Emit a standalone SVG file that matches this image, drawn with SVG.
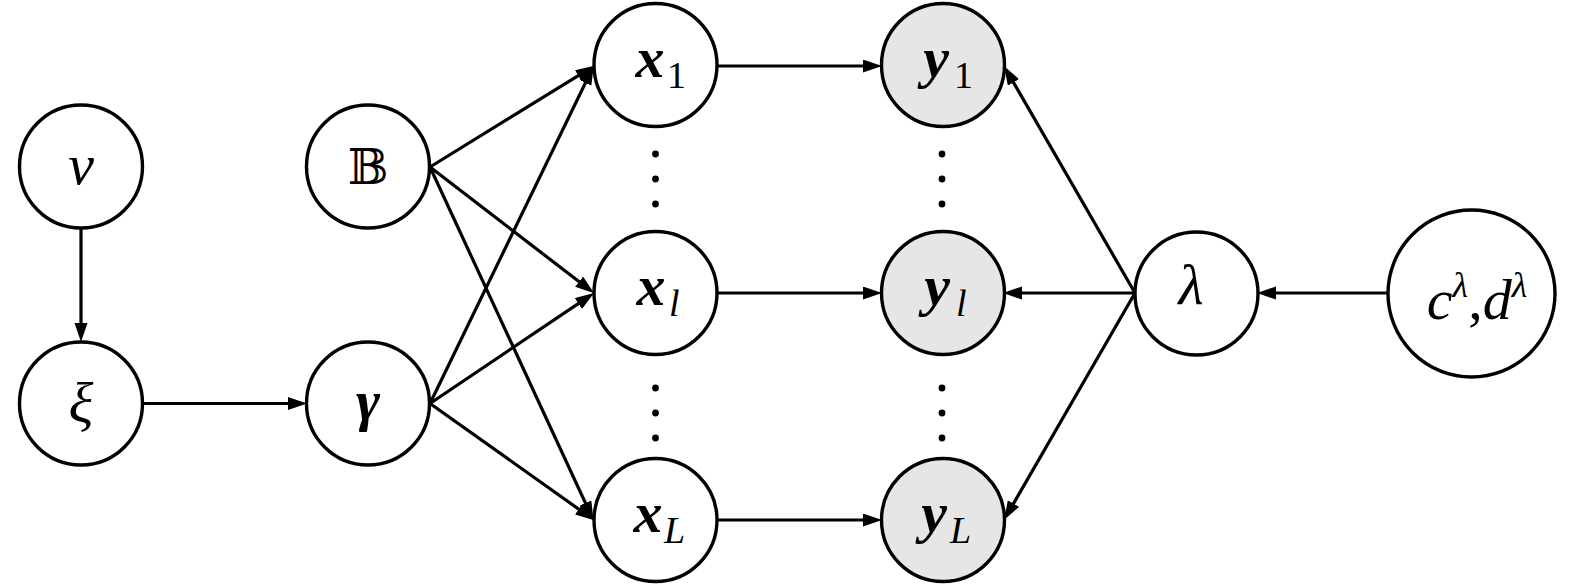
<svg xmlns="http://www.w3.org/2000/svg" width="1575" height="587" viewBox="0 0 1575 587">
<style>
.n{fill:#fff;stroke:#000;stroke-width:3.4}
.o{fill:#e6e6e6;stroke:#000;stroke-width:3.4}
.e{stroke:#000;stroke-width:3.2;fill:none;marker-end:url(#ah)}
.t{font-family:"Liberation Serif","DejaVu Serif",serif;font-style:italic;font-size:58px;text-anchor:middle;fill:#000}
.b{font-weight:bold}
.s{font-family:"Liberation Serif","DejaVu Serif",serif;font-size:38px;fill:#000}
.d{fill:#000}
</style>
<defs>
<marker id="ah" markerUnits="userSpaceOnUse" markerWidth="20" markerHeight="14" refX="12" refY="6.5" orient="auto">
<path d="M0,0 L19,6.5 L0,13 z" fill="#000"/>
</marker>
</defs>
<g id="connectors">
<line class="e" x1="81" y1="228" x2="81" y2="335"/>
<line class="e" x1="143" y1="403.5" x2="300" y2="403.5"/>
<line class="e" x1="430" y1="167" x2="588.5" y2="69.4"/>
<line class="e" x1="430" y1="167" x2="588.6" y2="289"/>
<line class="e" x1="430" y1="167" x2="590.5" y2="514"/>
<line class="e" x1="430" y1="403.5" x2="590.7" y2="72"/>
<line class="e" x1="430" y1="403.5" x2="588.3" y2="296.8"/>
<line class="e" x1="430" y1="403.5" x2="588.5" y2="516.1"/>
<line class="e" x1="717" y1="66" x2="875" y2="66"/>
<line class="e" x1="717" y1="293" x2="875" y2="293"/>
<line class="e" x1="717" y1="520" x2="875" y2="520"/>
<line class="e" x1="1135" y1="293" x2="1007.5" y2="72"/>
<line class="e" x1="1135" y1="293" x2="1010" y2="293"/>
<line class="e" x1="1135" y1="293" x2="1007.5" y2="514"/>
<line class="e" x1="1388" y1="293" x2="1264" y2="293"/>
</g>
<g id="node-v"><circle class="n" cx="81" cy="166.5" r="61.5"/><text class="t" x="81" y="184">v</text></g>
<g id="node-xi"><circle class="n" cx="81" cy="403.5" r="61.5"/><text class="t" x="81" y="422">ξ</text></g>
<g id="node-B"><circle class="n" cx="368" cy="166.5" r="61.5"/><text x="368" y="184" style="font-family:'DejaVu Serif','DejaVu Sans',serif;font-size:48px;text-anchor:middle">𝔹</text></g>
<g id="node-gamma"><circle class="n" cx="368" cy="403.5" r="61.5"/><text class="t b" x="368" y="420">γ</text></g>
<g id="node-x1"><circle class="n" cx="655.5" cy="65" r="61.5"/><text class="t b" x="650" y="77">x</text><text class="s" x="667" y="88">1</text></g>
<g id="node-xl"><circle class="n" cx="655.5" cy="293" r="61.5"/><text class="t b" x="651" y="305">x</text><text class="s" x="669" y="316" style="font-style:italic">l</text></g>
<g id="node-xL"><circle class="n" cx="655.5" cy="520" r="61.5"/><text class="t b" x="648" y="532">x</text><text class="s" x="664" y="543" style="font-style:italic">L</text></g>
<g id="node-y1"><circle class="o" cx="943" cy="65" r="61.5"/><text class="t b" x="936" y="77">y</text><text class="s" x="954" y="88">1</text></g>
<g id="node-yl"><circle class="o" cx="943" cy="293" r="61.5"/><text class="t b" x="937" y="305">y</text><text class="s" x="956" y="316" style="font-style:italic">l</text></g>
<g id="node-yL"><circle class="o" cx="943" cy="520" r="61.5"/><text class="t b" x="934" y="532">y</text><text class="s" x="950" y="543" style="font-style:italic">L</text></g>
<g id="node-lambda"><circle class="n" cx="1196.5" cy="293.5" r="61.5"/><text class="t" x="1191" y="304">λ</text></g>
<g id="node-cd"><circle class="n" cx="1471.5" cy="293.5" r="83.5"/><text class="t" x="1477" y="319">c<tspan font-size="36" dy="-22">λ</tspan><tspan dy="22" font-style="normal">,</tspan>d<tspan font-size="36" dy="-22">λ</tspan></text></g>
<g id="dots">
<circle class="d" cx="655.5" cy="154" r="3.4"/><circle class="d" cx="655.5" cy="179" r="3.4"/><circle class="d" cx="655.5" cy="204" r="3.4"/>
<circle class="d" cx="655.5" cy="388" r="3.4"/><circle class="d" cx="655.5" cy="413" r="3.4"/><circle class="d" cx="655.5" cy="438" r="3.4"/>
<circle class="d" cx="942" cy="154" r="3.4"/><circle class="d" cx="942" cy="179" r="3.4"/><circle class="d" cx="942" cy="204" r="3.4"/>
<circle class="d" cx="942" cy="388" r="3.4"/><circle class="d" cx="942" cy="413" r="3.4"/><circle class="d" cx="942" cy="438" r="3.4"/>
</g>
</svg>
